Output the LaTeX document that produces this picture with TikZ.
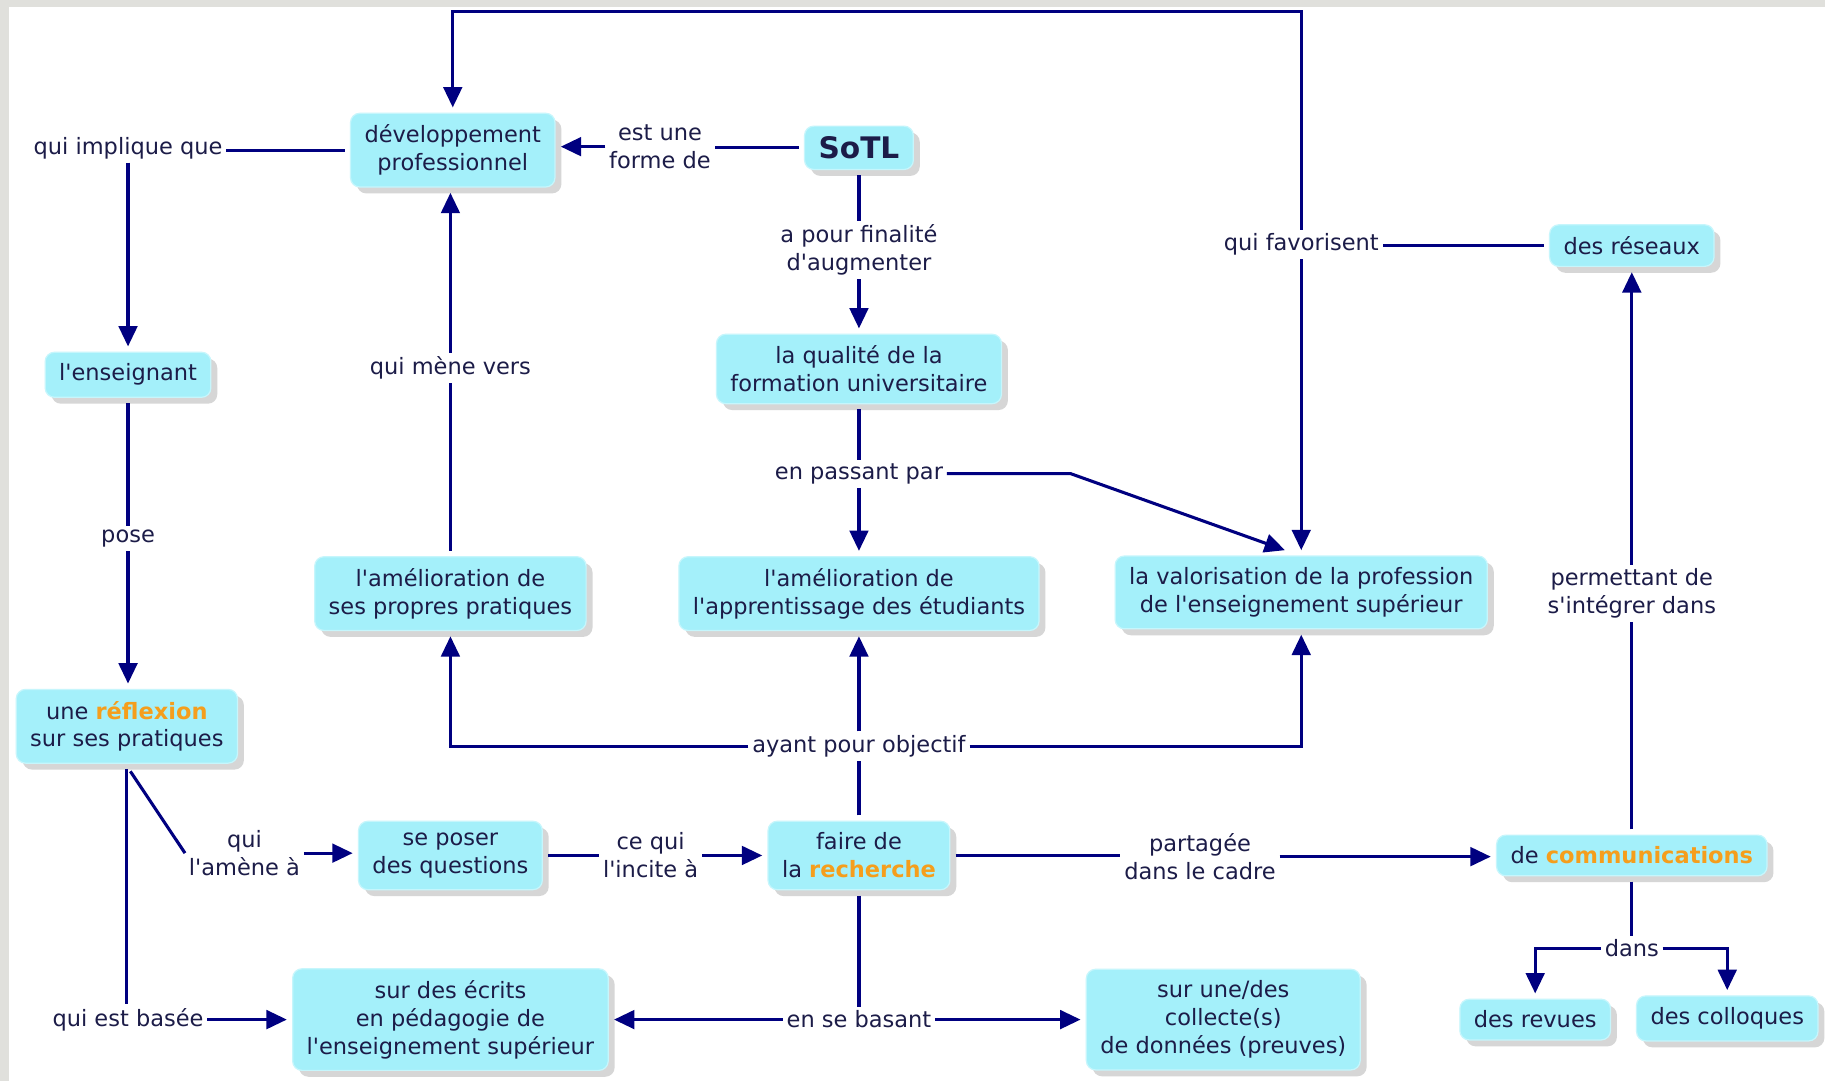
\documentclass[tikz,border=0pt]{standalone}
\usepackage{fontspec}
\setmainfont{DejaVu Sans}[Ligatures=TeXOff]
\usetikzlibrary{arrows.meta,shadows,calc}

\definecolor{conceptfill}{RGB}{164,240,250}
\definecolor{conceptedge}{RGB}{198,246,252}
\definecolor{inktext}{RGB}{28,28,72}
\definecolor{linkblue}{RGB}{0,0,128}
\definecolor{accent}{RGB}{245,158,28}
\definecolor{framegray}{RGB}{224,224,220}
\definecolor{shade}{RGB}{214,214,214}
\newcommand{\keyword}[1]{\textcolor{accent}{\textbf{#1}}}

\begin{document}
\begin{tikzpicture}[x=0.02cm,y=-0.02cm,
  concept/.style={rectangle, rounded corners=0.16cm, fill=conceptfill, draw=conceptedge,
    line width=0.6pt, text=inktext, align=center, inner xsep=0.24cm, inner ysep=0.2cm,
    outer sep=0.1cm, font=\fontsize{11}{13.6}\selectfont,
    drop shadow={shadow xshift=0.11cm, shadow yshift=-0.11cm, fill=shade, opacity=1}},
  linkword/.style={text=inktext, align=center, inner sep=0.06cm, font=\fontsize{11}{13.6}\selectfont},
  conn/.style={draw=linkblue, line width=1.5pt},
  arr/.style={conn, -{Triangle[length=0.35cm,width=0.32cm]}}]

\useasboundingbox (0,0) rectangle (1568,929);
\fill[framegray] (0,0) rectangle (1568,929);
\fill[white] (8,6) rectangle (1568,929);

% concepts
\node[concept] (dev) at (389,129) {développement\\professionnel};
\node[concept, font=\fontsize{14.5}{17}\selectfont\bfseries, inner ysep=0.18cm] (sotl) at (738,127) {SoTL};
\node[concept] (ens) at (110,322) {l'enseignant};
\node[concept] (qual) at (738,317) {la qualité de la\\formation universitaire};
\node[concept] (res) at (1402,211) {des réseaux};
\node[concept] (amel1) at (387,510) {l'amélioration de\\ses propres pratiques};
\node[concept] (amel2) at (738,510) {l'amélioration de\\l'apprentissage des étudiants};
\node[concept] (valo) at (1118,509) {la valorisation de la profession\\de l'enseignement supérieur};
\node[concept] (refl) at (109,624) {une \keyword{réflexion}\\sur ses pratiques};
\node[concept] (poser) at (387,735) {se poser\\des questions};
\node[concept] (rech) at (738,735) {faire de\\la \keyword{recherche}};
\node[concept] (comm) at (1402,735) {de \keyword{communications}};
\node[concept] (ecrits) at (387,876) {sur des écrits\\en pédagogie de\\l'enseignement supérieur};
\node[concept] (coll) at (1051,876) {sur une/des\\collecte(s)\\de données (preuves)};
\node[concept] (rev) at (1319,876) {des revues};
\node[concept] (colq) at (1484,875) {des colloques};

% linking words
\node[linkword] (impl) at (110,127) {qui implique que};
\node[linkword] (forme) at (567,126) {est une\\forme de};
\node[linkword] (fin) at (738,215) {a pour finalité\\d'augmenter};
\node[linkword] (fav) at (1118,210) {qui favorisent};
\node[linkword] (mene) at (387,316) {qui mène vers};
\node[linkword] (pose) at (110,463) {pose};
\node[linkword] (pass) at (738,407) {en passant par};
\node[linkword] (perm) at (1402,510) {permettant de\\s'intégrer dans};
\node[linkword] (obj) at (738,641) {ayant pour objectif};
\node[linkword] (amene) at (210,733) {qui\\l'amène à};
\node[linkword] (incite) at (559,735) {ce qui\\l'incite à};
\node[linkword] (part) at (1031,736) {partagée\\dans le cadre};
\node[linkword] (basee) at (110,876) {qui est basée};
\node[linkword] (basant) at (738,876) {en se basant};
\node[linkword] (dans) at (1402,815) {dans};

\coordinate (toprow) at (0,10);
\coordinate (bend) at (920,407);

% connectors
\draw[conn] (sotl.west) -- (sotl.west -| forme.east);
\draw[arr] (forme.west) -- (forme.west -| dev.east);
\draw[conn] (dev.west) -- (dev.west -| impl.east);
\draw[arr] (impl.south) -- (impl.south |- ens.north);
\draw[conn] (ens.south) -- (ens.south |- pose.north);
\draw[arr] (pose.south) -- (pose.south |- refl.north);
\draw[conn] (refl.south) -- (refl.south |- basee.north);
\draw[arr] (basee.east) -- (basee.east -| ecrits.west);
\draw[conn] ($(refl.south)+(3,2)$) -- (amene.west);
\draw[arr] (amene.east) -- (amene.east -| poser.west);
\draw[conn] (poser.east) -- (poser.east -| incite.west);
\draw[arr] (incite.east) -- (incite.east -| rech.west);
\draw[conn] (rech.north) -- (rech.north |- obj.south);
\draw[arr] (obj.north) -- (obj.north |- amel2.south);
\draw[arr] (obj.west) -| (amel1.south);
\draw[arr] (obj.east) -| (valo.south);
\draw[conn] (rech.south) -- (rech.south |- basant.north);
\draw[arr] (basant.west) -- (basant.west -| ecrits.east);
\draw[arr] (basant.east) -- (basant.east -| coll.west);
\draw[conn] (rech.east) -- (rech.east -| part.west);
\draw[arr] (part.east) -- (part.east -| comm.west);
\draw[conn] (comm.north) -- (comm.north |- perm.south);
\draw[arr] (perm.north) -- (perm.north |- res.south);
\draw[conn] (comm.south) -- (comm.south |- dans.north);
\draw[arr] (dans.west) -| (rev.north);
\draw[arr] (dans.east) -| (colq.north);
\draw[conn] (res.west) -- (res.west -| fav.east);
\draw[arr] (fav.south) -- (fav.south |- valo.north);
\draw[arr] (fav.north) -- (fav.north |- toprow) -| (dev.north);
\draw[conn] (sotl.south) -- (sotl.south |- fin.north);
\draw[arr] (fin.south) -- (fin.south |- qual.north);
\draw[conn] (qual.south) -- (qual.south |- pass.north);
\draw[arr] (pass.south) -- (pass.south |- amel2.north);
\draw[arr] (pass.east) -- (bend) -- ($(valo.north)+(-14,0)$);
\draw[conn] (amel1.north) -- (amel1.north |- mene.south);
\draw[arr] (mene.north) -- (mene.north |- dev.south);
\end{tikzpicture}
\end{document}
